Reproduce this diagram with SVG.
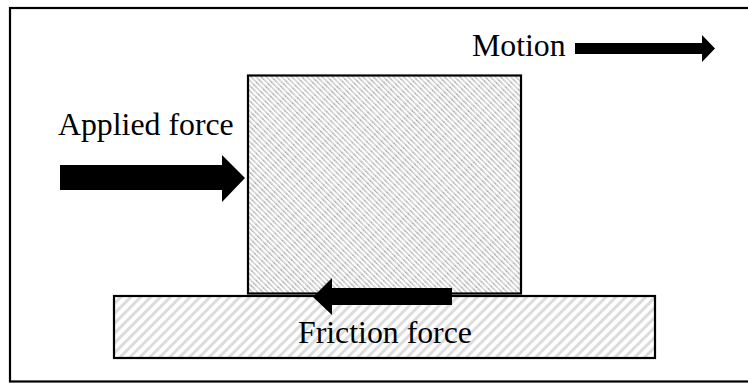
<svg xmlns="http://www.w3.org/2000/svg" width="748" height="385" viewBox="0 0 748 385">
<defs>
<pattern id="hBlock" patternUnits="userSpaceOnUse" width="3.6" height="10" patternTransform="rotate(-45)">
<line x1="0.8" y1="0" x2="0.8" y2="10" stroke="#999" stroke-width="1.2" stroke-dasharray="1.2 0.6"/>
</pattern>
<pattern id="hBase" patternUnits="userSpaceOnUse" width="7" height="10" patternTransform="rotate(45)">
<line x1="1.5" y1="0" x2="1.5" y2="10" stroke="#dcdcdc" stroke-width="3"/>
</pattern>
</defs>
<style>
.lbl{font-family:"Liberation Serif","Times New Roman",serif;font-size:31.8px;fill:#000}
.box{stroke:#000;stroke-width:2.2}
.arr{fill:#000}
</style>
<rect x="0" y="0" width="748" height="385" fill="#fff"/>
<rect x="10" y="8" width="780" height="373.5" fill="none" stroke="#000" stroke-width="2.2"/>
<g id="base">
<rect class="box" x="114" y="296" width="541" height="62" fill="url(#hBase)"/>
</g>
<g id="block">
<rect class="box" x="248" y="75.5" width="273" height="218" fill="url(#hBlock)"/>
</g>
<g id="connectors">
<polygon class="arr" points="60,165 222,165 222,155 245,178 222,202 222,190 60,190"/>
<polygon class="arr" points="575,43 702,43 702,35 715,48.5 702,62 702,54 575,54"/>
<polygon class="arr" points="452,288 332,288 332,278 313,297 332,315 332,305 452,305"/>
</g>
<g id="labels">
<text class="lbl" x="472" y="56">Motion</text>
<text class="lbl" x="58" y="135">Applied force</text>
<text class="lbl" x="298" y="343">Friction force</text>
</g>
</svg>
